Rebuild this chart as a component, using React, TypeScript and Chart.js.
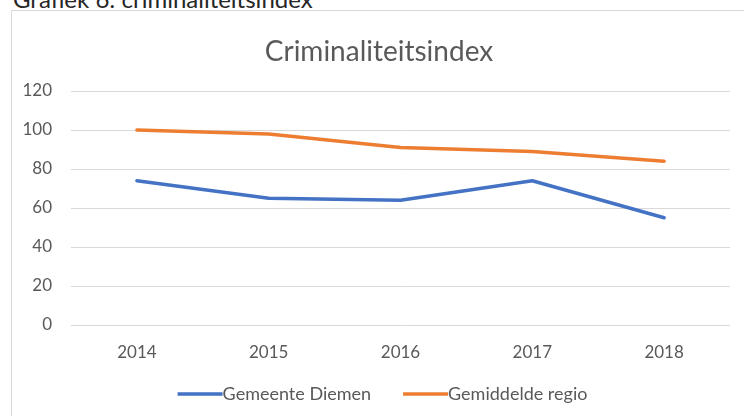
import React, { useEffect, useRef } from "react";
import { Chart, registerables } from "chart.js";

Chart.register(...registerables);

const heading = "Grafiek 6: criminaliteitsindex";
const chartTitle = "Criminaliteitsindex";
const years = ["2014", "2015", "2016", "2017", "2018"];
const diemenLabel = "Gemeente Diemen";
const diemen = [74, 65, 64, 74, 55];
const regioLabel = "Gemiddelde regio";
const regio = [100, 98, 91, 89, 84];
const yMin = 0;
const yMax = 120;
const yStep = 20;

const FONT = "Lato, 'Open Sans', sans-serif";
const TEXT = "#595959";

// Title is centred over the whole chart box (including its right margin), as in Excel
const titleShift = {
  id: "titleShift",
  afterLayout(chart: any) {
    if (chart.titleBlock) chart.titleBlock.left += 16;
  },
};

// Legend drawn with the line swatch touching its text, as in the reference
const lineLegend = {
  id: "lineLegend",
  afterDraw(chart: any) {
    const ctx = chart.ctx;
    const sw = 45;
    const gap = 32;
    ctx.save();
    ctx.font = `18px ${FONT}`;
    const items = chart.data.datasets.map((d: any) => ({
      text: d.label,
      color: d.borderColor,
      w: sw + ctx.measureText(d.label).width,
    }));
    const total = items.reduce((a: number, it: any) => a + it.w, 0) + gap * (items.length - 1);
    let x = (chart.chartArea.left + chart.chartArea.right) / 2 - 18 - total / 2;
    const y = 383;
    ctx.textBaseline = "middle";
    ctx.textAlign = "left";
    for (const it of items) {
      ctx.fillStyle = it.color;
      ctx.fillRect(x, y - 1.75, sw, 3.5);
      ctx.fillStyle = TEXT;
      ctx.fillText(it.text, x + sw, y);
      x += it.w + gap;
    }
    ctx.restore();
  },
};

export default function App() {
  const ref = useRef<HTMLCanvasElement | null>(null);

  useEffect(() => {
    if (!ref.current) return;
    const chart = new Chart(ref.current, {
      type: "line",
      data: {
        labels: years,
        datasets: [
          {
            label: diemenLabel,
            data: diemen,
            borderColor: "#4472C4",
            backgroundColor: "#4472C4",
            borderWidth: 3.5,
            pointRadius: 0,
            tension: 0,
            borderCapStyle: "round",
            borderJoinStyle: "round",
          },
          {
            label: regioLabel,
            data: regio,
            borderColor: "#ED7D31",
            backgroundColor: "#ED7D31",
            borderWidth: 3.5,
            pointRadius: 0,
            tension: 0,
            borderCapStyle: "round",
            borderJoinStyle: "round",
          },
        ],
      },
      options: {
        animation: false,
        responsive: false,
        maintainAspectRatio: false,
        layout: { padding: { left: 0, right: 14, top: 0, bottom: 37 } },
        plugins: {
          title: {
            display: true,
            text: chartTitle,
            color: TEXT,
            font: { family: FONT, size: 28, weight: "normal" },
            padding: { top: 24.2, bottom: 22.2 },
          },
          legend: { display: false },
          tooltip: { enabled: false },
        },
        scales: {
          x: {
            offset: true,
            grid: { display: false, drawTicks: false },
            border: { display: false },
            ticks: {
              color: TEXT,
              font: { family: FONT, size: 17 },
              padding: 17,
            },
            afterFit: (s: any) => {
              s.height = 54;
            },
          },
          y: {
            min: yMin,
            max: yMax,
            grid: { color: "#d9d9d9", lineWidth: 1, drawTicks: false },
            border: { display: false },
            ticks: {
              stepSize: yStep,
              color: TEXT,
              font: { family: FONT, size: 17 },
              padding: 19,
            },
            afterFit: (s: any) => {
              s.width = 59;
            },
          },
        },
      },
      plugins: [titleShift, lineLegend],
    });
    return () => chart.destroy();
  }, []);

  return (
    <div
      style={{
        position: "fixed",
        left: 0,
        top: 0,
        width: 744,
        height: 416,
        overflow: "hidden",
        background: "#fff",
      }}
    >
      <div
        style={{
          position: "absolute",
          left: 13,
          top: -15,
          fontFamily: FONT,
          fontSize: 24,
          lineHeight: "28px",
          color: "#262626",
          whiteSpace: "nowrap",
        }}
      >
        {heading}
      </div>
      <div
        style={{
          position: "absolute",
          left: 11,
          top: 10,
          width: 760,
          height: 420,
          border: "1px solid #d9d9d9",
          boxSizing: "border-box",
        }}
      />
      <canvas
        ref={ref}
        width={732}
        height={405}
        style={{ position: "absolute", left: 12, top: 11, width: 732, height: 405 }}
      />
    </div>
  );
}
